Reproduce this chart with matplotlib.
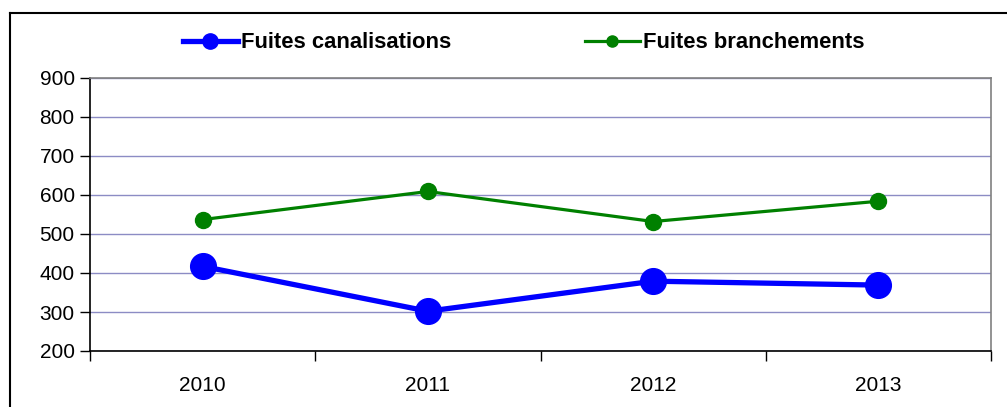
import matplotlib
matplotlib.use('Agg')
import matplotlib.pyplot as plt
from matplotlib.lines import Line2D

plt.rcParams['font.family'] = ['Liberation Sans', 'DejaVu Sans']

# data
years = ['2010', '2011', '2012', '2013']
canalisations = [417, 302, 379, 369]
branchements = [537, 609, 532, 584]

W, H = 1007, 407
fig = plt.figure(figsize=(W / 100, H / 100), dpi=100)

# axes placed to match the reference plot area
ax = fig.add_axes([90 / W, 1 - 351 / H, (991 - 90) / W, (351 - 78) / H])

x = list(range(len(years)))
ax.plot(x, branchements, color='#008000', lw=2.3, marker='o', ms=11.5, zorder=3)
ax.plot(x, canalisations, color='#0000ff', lw=3.8, marker='o', ms=18.5, zorder=4)

ax.set_xlim(-0.5, len(years) - 0.5)
ax.set_ylim(200, 900)
ax.set_yticks(range(200, 901, 100))
ax.set_xticks([i - 0.5 for i in range(len(years) + 1)])
ax.set_xticklabels([])
ax.set_xticks(x, minor=True)
ax.set_xticklabels(years, minor=True)
ax.tick_params(axis='x', which='minor', length=0, pad=18, labelsize=15)
ax.tick_params(axis='x', which='major', length=7, direction='out', width=1)
ax.tick_params(axis='y', length=7, direction='out', width=1, labelsize=15, pad=4)

ax.yaxis.grid(True, color='#8c8cc4', lw=1)
ax.set_axisbelow(True)
for s in ['top', 'right']:
    ax.spines[s].set_color('#808080')
    ax.spines[s].set_linewidth(1.2)
for s in ['left', 'bottom']:
    ax.spines[s].set_color('black')
    ax.spines[s].set_linewidth(1.2)

# legend
handles = [
    Line2D([], [], color='#0000ff', lw=3.8, marker='o', ms=11),
    Line2D([], [], color='#008000', lw=2.3, marker='o', ms=8),
]
fig.legend(handles, ['Fuites canalisations', 'Fuites branchements'],
           ncol=2, frameon=False, loc='center left',
           bbox_to_anchor=(163 / W, 1 - 43 / H),
           prop={'weight': 'bold', 'size': 15.8},
           handlelength=2.5, handletextpad=0.15, columnspacing=6.1)

# outer chart frame (left and top edges visible)
fig.add_artist(Line2D([10 / W, 10 / W], [0, 1 - 13 / H], color='black', lw=1.5,
                      transform=fig.transFigure))
fig.add_artist(Line2D([10 / W, 1.0], [1 - 13 / H, 1 - 13 / H], color='black', lw=1.5,
                      transform=fig.transFigure))

fig.savefig('out.png', dpi=100)
